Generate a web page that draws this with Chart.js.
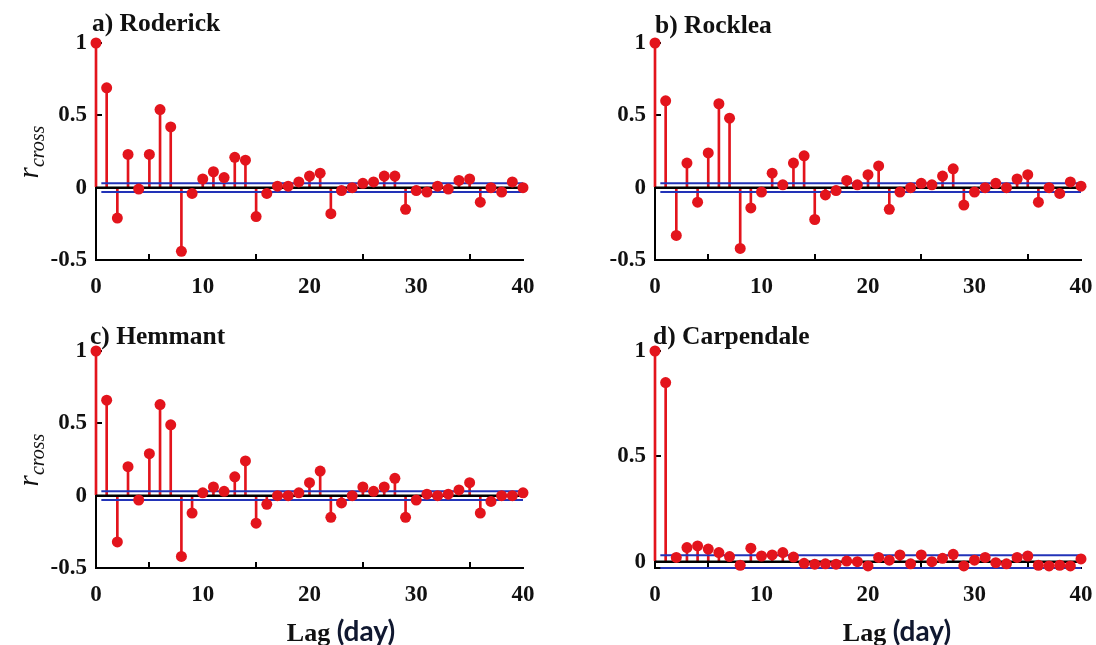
<!DOCTYPE html>
<html>
<head>
<meta charset="utf-8">
<script src="https://cdn.jsdelivr.net/npm/chart.js@4"></script>
<style>
  body { margin: 0; background: #fff; width: 1096px; height: 645px; overflow: hidden; position: relative; }
  .box { position: absolute; }
  .ttl { position: absolute; font: bold 25.5px "Liberation Serif", serif; color: #111; white-space: nowrap; line-height: 26px; }
  .ylab { position: absolute; width: 80px; height: 30px; line-height: 30px; text-align: center;
          font: italic 29px "Liberation Serif", serif; color: #111; transform: rotate(-90deg); white-space: nowrap; }
  .ylab sub { font-size: 20px; vertical-align: -6px; }
  .xlab { position: absolute; width: 200px; text-align: center; white-space: nowrap; color: #111; line-height: 30px; }
  .xlab .a { font: bold 26px "Liberation Serif", serif; }
  .xlab .b { font: bold 28px Lato, sans-serif; color: #101830; }
</style>
</head>
<body>
<div class="box" style="left:0;top:0"><canvas id="chA" width="548" height="300"></canvas></div>
<div class="box" style="left:548px;top:0"><canvas id="chB" width="548" height="300"></canvas></div>
<div class="box" style="left:0;top:300px"><canvas id="chC" width="548" height="345"></canvas></div>
<div class="box" style="left:548px;top:300px"><canvas id="chD" width="548" height="345"></canvas></div>

<div class="ttl" style="left:92px;top:10px">a) Roderick</div>
<div class="ttl" style="left:655px;top:12px">b) Rocklea</div>
<div class="ttl" style="left:90px;top:323px">c) Hemmant</div>
<div class="ttl" style="left:653px;top:323px">d) Carpendale</div>

<div class="ylab" style="left:-13px;top:137px">r<sub>cross</sub></div>
<div class="ylab" style="left:-13px;top:445px">r<sub>cross</sub></div>

<div class="xlab" style="left:241px;top:613px"><span class="a">Lag </span><span class="b">(day)</span></div>
<div class="xlab" style="left:797px;top:613px"><span class="a">Lag </span><span class="b">(day)</span></div>

<script>
// lag (days)
const lags = [0, 1, 2, 3, 4, 5, 6, 7, 8, 9, 10, 11, 12, 13, 14, 15, 16, 17, 18, 19, 20,
              21, 22, 23, 24, 25, 26, 27, 28, 29, 30, 31, 32, 33, 34, 35, 36, 37, 38, 39, 40];

// cross-correlation
const roderick = [1.00, 0.69, -0.21, 0.23, -0.01, 0.23, 0.54, 0.42, -0.44, -0.04, 0.06,
                  0.11, 0.07, 0.21, 0.19, -0.20, -0.04, 0.01, 0.01, 0.04, 0.08,
                  0.10, -0.18, -0.02, 0.00, 0.03, 0.04, 0.08, 0.08, -0.15, -0.02,
                  -0.03, 0.01, -0.01, 0.05, 0.06, -0.10, 0.00, -0.03, 0.04, 0.00];
const rocklea = [1.00, 0.60, -0.33, 0.17, -0.10, 0.24, 0.58, 0.48, -0.42, -0.14, -0.03,
                 0.10, 0.02, 0.17, 0.22, -0.22, -0.05, -0.02, 0.05, 0.02, 0.09,
                 0.15, -0.15, -0.03, 0.00, 0.03, 0.02, 0.08, 0.13, -0.12, -0.03,
                 0.00, 0.03, 0.00, 0.06, 0.09, -0.10, 0.00, -0.04, 0.04, 0.01];
const hemmant = [1.00, 0.66, -0.32, 0.20, -0.03, 0.29, 0.63, 0.49, -0.42, -0.12, 0.02,
                 0.06, 0.03, 0.13, 0.24, -0.19, -0.06, 0.00, 0.00, 0.02, 0.09,
                 0.17, -0.15, -0.05, 0.00, 0.06, 0.03, 0.06, 0.12, -0.15, -0.03,
                 0.01, 0.00, 0.01, 0.04, 0.09, -0.12, -0.04, 0.00, 0.00, 0.02];
const carpendale = [1.00, 0.85, 0.02, 0.067, 0.075, 0.06, 0.043, 0.024, -0.017, 0.064, 0.027,
                    0.032, 0.043, 0.022, -0.008, -0.012, -0.01, -0.012, 0.003, 0.00, -0.02,
                    0.02, 0.007, 0.032, -0.01, 0.032, 0.00, 0.016, 0.035, -0.02, 0.007,
                    0.02, -0.005, -0.01, 0.02, 0.027, -0.017, -0.02, -0.017, -0.02, 0.013];

// significance bounds and the lag span they cover
const confLevel = 0.03;
const boundLags = [0.5, 40];
const zeroLags = [0, 40];

const xTicks = [0, 10, 20, 30, 40];
const yTicksFull = [-0.5, 0, 0.5, 1];
const yTicksCarp = [0, 0.5, 1];

const RED = '#e3141c';
const BLUE = '#2233b8';
const tickFont = { family: 'Liberation Serif', size: 23, weight: 'bold' };

function makePanel(id, values, yMin, yTicks, g) {
  const pts = lags.map((x, i) => ({ x: x, y: values[i] }));
  new Chart(document.getElementById(id), {
    type: 'scatter',
    data: {
      datasets: [
        { type: 'scatter', data: pts, pointRadius: 5.5, pointBackgroundColor: RED,
          pointBorderWidth: 0, showLine: false, clip: false, order: 0 },
        { type: 'line', data: boundLags.map(x => ({ x: x, y: confLevel })), borderColor: BLUE,
          borderWidth: 2, pointRadius: 0, clip: false, order: 1 },
        { type: 'line', data: boundLags.map(x => ({ x: x, y: -confLevel })), borderColor: BLUE,
          borderWidth: 2, pointRadius: 0, clip: false, order: 1 },
        { type: 'line', data: zeroLags.map(x => ({ x: x, y: 0 })), borderColor: '#000',
          borderWidth: 2.5, pointRadius: 0, clip: false, order: 1 },
        { type: 'bar', data: pts, backgroundColor: RED, barThickness: 2, borderWidth: 0,
          clip: false, order: 2 }
      ]
    },
    options: {
      responsive: false,
      animation: false,
      devicePixelRatio: 1,
      layout: { padding: { top: g.top, right: g.right, left: 0, bottom: 0 } },
      plugins: { legend: { display: false }, tooltip: { enabled: false } },
      scales: {
        x: {
          type: 'linear', min: 0, max: 40, offset: false,
          border: { color: '#000', width: 2 },
          grid: { drawOnChartArea: false, color: '#000', lineWidth: 2, tickLength: -6 },
          ticks: { font: tickFont, color: '#111', padding: 19, maxRotation: 0, autoSkip: false },
          afterBuildTicks: s => { s.ticks = xTicks.map(v => ({ value: v })); },
          afterFit: s => { s.height = g.xh; s.paddingLeft = 0; s.paddingRight = 0; }
        },
        y: {
          type: 'linear', min: yMin, max: 1,
          border: { color: '#000', width: 2 },
          grid: { drawOnChartArea: false, color: '#000', lineWidth: 2, tickLength: -6 },
          ticks: { font: tickFont, color: '#111', padding: 15, callback: v => String(v) },
          afterBuildTicks: s => { s.ticks = yTicks.map(v => ({ value: v })); },
          afterFit: s => { s.width = g.yw; s.paddingTop = 0; s.paddingBottom = 0; }
        }
      }
    }
  });
}

makePanel('chA', roderick, -0.5, yTicksFull, { top: 43, right: 25, yw: 96, xh: 40 });
makePanel('chB', rocklea, -0.5, yTicksFull, { top: 43, right: 15, yw: 107, xh: 40 });
makePanel('chC', hemmant, -0.5, yTicksFull, { top: 51, right: 25, yw: 96, xh: 77 });
makePanel('chD', carpendale, -0.03, yTicksCarp, { top: 51, right: 15, yw: 107, xh: 77 });
</script>
</body>
</html>
